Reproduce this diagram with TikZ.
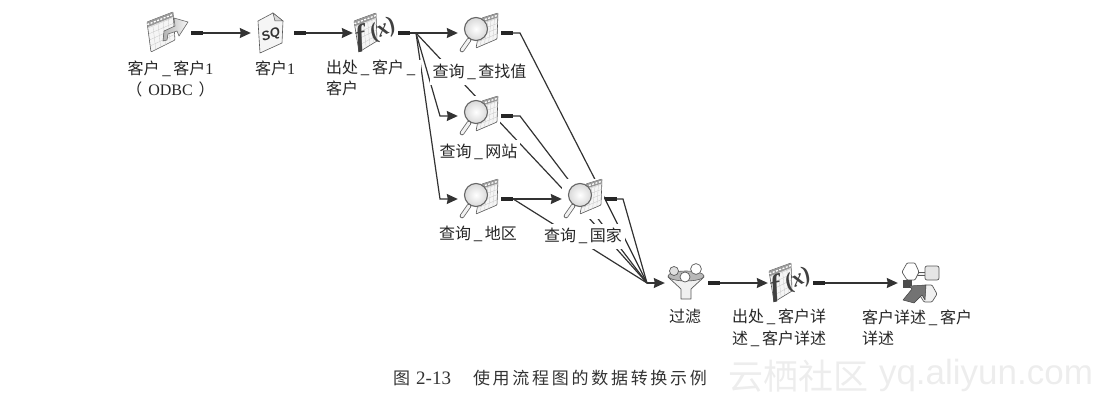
\documentclass[tikz,border=0pt]{standalone}
\usepackage{fontspec}
\setmainfont{Liberation Serif}
\newfontfamily\cjk{Noto Sans CJK SC}
\newfontfamily\capcjk[LetterSpace=16]{Noto Sans CJK SC}
\newfontfamily\wmsans{Liberation Sans}
\usetikzlibrary{arrows.meta,backgrounds,calc,shapes.geometric}
\newcommand\us{\kern2.5pt\_\kern2.5pt}
\newcommand\sheetgrid[4]{
	\draw[draw=black!65,fill=black!4,rounded corners=0.8pt,line width=0.6pt] (#1) -- (#2) -- (#3) -- (#4) -- cycle;
	\foreach \t in {0.2,0.4,0.6,0.8}{
		\draw[black!22,line width=0.3pt] ($(#1)!\t!(#2)$) -- ($(#4)!\t!(#3)$);
		\draw[black!22,line width=0.3pt] ($(#1)!\t!(#4)$) -- ($(#2)!\t!(#3)$);
	}
	\fill[black!40] (#1) -- (#2) -- ($(#2)!0.17!(#3)$) -- ($(#1)!0.17!(#4)$) -- cycle;
	\draw[white,line width=1.3pt,dash pattern=on 2pt off 1.5pt] ($(#1)!0.085!(#4)$) -- ($(#2)!0.085!(#3)$);
}
\tikzset{
	iconbox/.style={minimum width=#1,minimum height=40pt,inner sep=0pt,fill=white},
	stub/.style={minimum width=12pt,minimum height=4.5pt,inner sep=0pt,fill=black!85},
	flow/.style={draw=black!80,line width=1.2pt},
	flowto/.style={flow,-{Stealth[length=11pt,width=10pt,inset=1pt]}},
	lab/.style={font=\fontsize{16}{21.5}\cjk,text=black!85,fill=white,inner xsep=3pt,inner ysep=0pt,minimum height=25pt},
	odbcicon/.pic={
		\sheetgrid{-20,-10}{6,-20}{8,8}{-16,20}
		\draw[left color=black!30,right color=black!3,draw=black!60,line width=0.6pt,line join=round] (-3,-1) -- (8,-6) -- (7,-14) -- (21,-10) -- (12,4) -- (10,-1) -- (1,2) -- (0,8) -- (-4,9) -- cycle;
	},
	sqlicon/.pic={
		\draw[draw=black!65,fill=black!4,line width=0.6pt,line join=round] (-12,-12) -- (3,-20) -- (13,-12) -- (12,10) -- (-10,20) -- cycle;
		\draw[draw=black!65,fill=black!15,line width=0.5pt] (3,-20) -- (5,-12) -- (13,-12) -- cycle;
		\node[font=\fontsize{13}{13}\wmsans\bfseries\itshape,rotate=18,text=black!80,inner sep=0pt] (-sq) at (1,2) {SQ};
	},
	lensicon/.pic={
		\sheetgrid{3,-15}{19,-20}{18,6}{-3,15}
		\draw[black!60,line width=4.6pt,line cap=round] (-10,7) -- (-17,17);
		\draw[black!5,line width=3pt,line cap=round] (-10,7) -- (-17,17);
		\draw[draw=black!60,line width=1.1pt,inner color=white,outer color=black!15] (-3,-4) circle (11.5);
	},
	fxicon/.pic={
		\sheetgrid{-21,-12}{1,-20}{2,8}{-16,19}
		\node[font=\fontsize{30}{30}\bfseries\itshape,rotate=12,text=black!75,inner sep=0pt] (-f) at (-14,5) {f};
		\node[font=\fontsize{23}{23}\bfseries\itshape,rotate=25,text=black!75,inner sep=0pt] (-x) at (8,-3) {(x)};
	},
	filtericon/.pic={
		\draw[draw=black!65,fill=black!6,line width=0.7pt,line join=round] (-18,-6) -- (18,-6) -- (5,6) -- (5,16) -- (-5,16) -- (-5,6) -- cycle;
		\draw[draw=black!65,fill=black!28,line width=0.6pt] (0,-7) ellipse (18 and 5);
		\draw[draw=black!65,fill=black!12,line width=0.7pt] (-12,-12) circle (4.5);
		\draw[draw=black!65,fill=white,line width=0.7pt] (10,-14) circle (5.4);
		\draw[draw=black!65,fill=white,line width=0.7pt] (-1,-6) circle (5);
	},
	targeticon/.pic={
		\draw[black!65,line width=4pt] (-9,-9) -- (12,-9);
		\draw[black!5,line width=2.2pt] (-9,-9) -- (12,-9);
		\draw[draw=black!65,fill=white,line width=0.7pt,rounded corners=1pt] (-18,-11) -- (-13,-20) -- (-5,-20) -- (-1,-11) -- (-5,-3) -- (-13,-3) -- cycle;
		\draw[draw=black!65,fill=black!10,line width=0.7pt,rounded corners=2pt] (5,-17) rectangle (19,-3);
		\draw[draw=black!65,fill=black!6,line width=0.7pt,rounded corners=1pt] (-1,11) -- (4,2) -- (12,2) -- (17,11) -- (12,19) -- (4,19) -- cycle;
		\fill[black!70] (-17,-3) rectangle (-8,5);
		\draw[draw=black!75,fill=black!55,line width=0.5pt,line join=round] (-17,17) -- (-8,6) -- (-11,3) -- (6,2) -- (5,17) -- (2,12) -- (-6,20) -- cycle;
	}
}

\begin{document}
\begin{tikzpicture}[x=1pt,y=-1pt]
	\useasboundingbox (0,0) rectangle (1103,404);
	%%%%% ICONS %%%%%
	\node[iconbox=42pt] (odbc) at (167,32) {};
	\node[iconbox=38pt] (sql) at (270,33) {};
	\node[iconbox=44pt] (fxa) at (375,33) {};
	\node[iconbox=42pt] (lensa) at (479,33) {};
	\node[iconbox=42pt] (lensb) at (479,116) {};
	\node[iconbox=42pt] (lensc) at (479,199) {};
	\node[iconbox=42pt] (lensd) at (583,199) {};
	\node[iconbox=42pt] (filter) at (686,283) {};
	\node[iconbox=44pt] (fxb) at (790,283) {};
	\node[iconbox=44pt] (target) at (920,283) {};
	\pic at (odbc) {odbcicon};
	\pic at (sql) {sqlicon};
	\pic (fa) at (fxa) {fxicon};
	\pic at (lensa) {lensicon};
	\pic at (lensb) {lensicon};
	\pic at (lensc) {lensicon};
	\pic at (lensd) {lensicon};
	\pic at (filter) {filtericon};
	\pic (fb) at (fxb) {fxicon};
	\pic at (target) {targeticon};

	\node[stub] (odbcout) at (196.5,33) {};
	\node[stub] (sqlout) at (300,33) {};
	\node[stub] (fxaout) at (403.5,33) {};
	\node[stub] (lensaout) at (507,33) {};
	\node[stub] (lensbout) at (507,116) {};
	\node[stub] (lenscout) at (507,199) {};
	\node[stub] (lensdout) at (611,199) {};
	\node[stub] (filterout) at (714,283) {};
	\node[stub] (fxbout) at (819,283) {};

	\coordinate (fork) at (416,33);
	\coordinate (bendb) at (440,116);
	\coordinate (bendc) at (440,199);
	\coordinate (benda) at (520,33);
	\coordinate (bende) at (520,116);
	\coordinate (bendf) at (623,199);
	\coordinate (lensdin) at (572,199);
	\coordinate (lensdtop) at (605,199);
	\coordinate (merge) at (647,283);

	%%%%% LINKS %%%%%
	\begin{scope}[on background layer]
		\draw[flowto] (odbcout) -- (sql);
		\draw[flowto] (sqlout) -- (fxa);
		\draw[flow] (fxaout) -- (fork);
		\draw[flowto] (fork) -- (lensa);
		\draw[flowto] (fork) -- (bendb) -- (lensb);
		\draw[flowto] (fork) -- (bendc) -- (lensc);
		\draw[flow] (fork) -- (lensdin);
		\draw[flow] (lensaout) -- (benda) -- (lensdtop);
		\draw[flow] (lensbout) -- (bende) -- (lensd.center);
		\draw[flowto] (lenscout) -- (lensd);
		\draw[flow] (lenscout.east) -- (merge);
		\draw[flow] (lensdout) -- (bendf) -- (merge);
		\draw[flow] (lensdtop) -- (merge);
		\draw[flow] (lensd.center) -- (merge);
		\draw[flow] (lensdin) -- (merge);
		\draw[flowto] (merge) -- (filter);
		\draw[flowto] (filterout) -- (fxb);
		\draw[flowto] (fxbout) -- (target);
	\end{scope}

	%%%%% LABELS %%%%%
	\node[lab,align=center] (odbclab) at (170.5,79) {客户\us 客户{\rmfamily 1}\\（\kern6pt{\rmfamily ODBC}\kern6pt）};
	\node[lab] (sqllab) at (275,68) {客户{\rmfamily 1}};
	\node[lab,align=left,anchor=west] (fxalab) at (323,78) {出处\us 客户\us\\客户};
	\node[lab] (lensalab) at (479.5,72) {查询\us 查找值};
	\node[lab] (lensblab) at (478.5,152) {查询\us 网站};
	\node[lab] (lensclab) at (478,234) {查询\us 地区};
	\node[lab] (lensdlab) at (583,236) {查询\us 国家};
	\node[lab] (filterlab) at (685,316) {过滤};
	\node[lab,align=left,anchor=west] (fxblab) at (729,328) {出处\us 客户详\\述\us 客户详述};
	\node[lab,align=left,anchor=west] (targetlab) at (859,328) {客户详述\us 客户\\详述};

	\node[anchor=west,inner sep=0pt,font=\fontsize{17}{17}\capcjk,text=black!80] (caption) at (393,378) {图\hspace{6pt}{\rmfamily\fontsize{19}{19}\selectfont 2-13}\hspace{22pt}使用流程图的数据转换示例};
	\node[inner sep=0pt,font=\fontsize{35}{35}\cjk,text=black!7] (wmcn) at (798,376) {云栖社区};
	\node[inner sep=0pt,font=\fontsize{35}{35}\wmsans,text=black!7] (wmen) at (986,375) {yq.aliyun.com};
\end{tikzpicture}
\end{document}
